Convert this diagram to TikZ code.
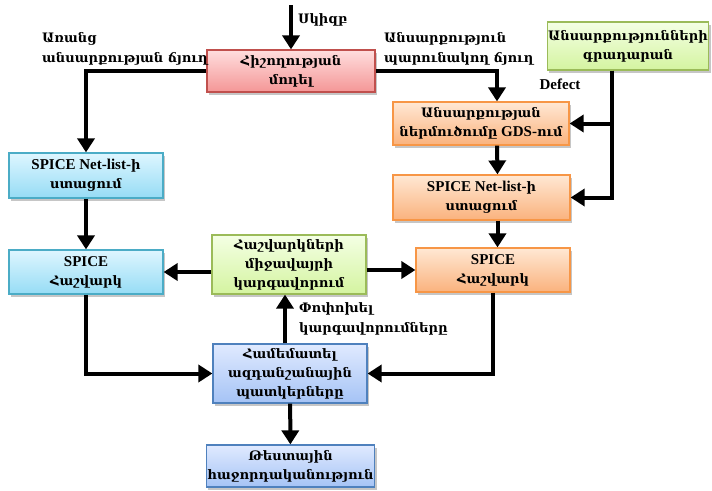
\documentclass[tikz,border=0pt]{standalone}
\usepackage{fontspec}
\setmainfont{Liberation Serif}
\newfontfamily\armfont[Scale=0.87]{DejaVu Serif}
\newcommand{\hy}[1]{{\armfont #1}}
\usetikzlibrary{arrows.meta,shadows}

\definecolor{redline}{RGB}{192,80,77}
\definecolor{redtop}{RGB}{255,222,222}
\definecolor{redbot}{RGB}{244,150,150}
\definecolor{greenline}{RGB}{155,187,89}
\definecolor{greentop}{RGB}{244,255,228}
\definecolor{greenbot}{RGB}{212,244,160}
\definecolor{orangeline}{RGB}{247,150,70}
\definecolor{orangetop}{RGB}{255,232,212}
\definecolor{orangebot}{RGB}{250,178,125}
\definecolor{cyanline}{RGB}{75,172,198}
\definecolor{cyantop}{RGB}{222,246,255}
\definecolor{cyanbot}{RGB}{150,220,245}
\definecolor{blueline}{RGB}{79,129,189}
\definecolor{bluetop}{RGB}{224,234,255}
\definecolor{bluebot}{RGB}{165,195,245}

\tikzset{
  box/.style={draw, line width=1.2pt, align=center, inner sep=1pt,
    font=\bfseries\fontsize{15}{19}\selectfont,
    drop shadow={opacity=0.45, shadow xshift=2pt, shadow yshift=-3pt}},
  redbox/.style={box, draw=redline, top color=redtop, bottom color=redbot},
  greenbox/.style={box, draw=greenline, top color=greentop, bottom color=greenbot},
  orangebox/.style={box, draw=orangeline, top color=orangetop, bottom color=orangebot},
  cyanbox/.style={box, draw=cyanline, top color=cyantop, bottom color=cyanbot},
  bluebox/.style={box, draw=blueline, top color=bluetop, bottom color=bluebot},
  conn/.style={line width=4pt, -{Triangle[width=17pt,length=14pt]}},
  lbl/.style={font=\bfseries\fontsize{15}{20}\selectfont, align=left, inner sep=0pt}
}

\begin{document}
\begin{tikzpicture}[x=1pt,y=-1pt]
\useasboundingbox (0,0) rectangle (712,490);

% Boxes
\node[redbox, minimum width=168pt, minimum height=42pt] (mem) at (291,71) {\hy{Հիշողության}\\\hy{մոդել}};
\node[greenbox, minimum width=154pt, minimum height=48pt] (lib) at (628,46) {\hy{Անսարքությունների}\\\hy{գրադարան}};
\node[orangebox, minimum width=176pt, minimum height=43pt] (gds) at (481,123.5) {\hy{Անսարքության}\\\hy{ներմուծումը} GDS-\hy{ում}};
\node[orangebox, minimum width=177pt, minimum height=45pt] (onet) at (481.5,197.5) {SPICE Net-list-\hy{ի}\\\hy{ստացում}};
\node[orangebox, minimum width=154pt, minimum height=44pt] (ospice) at (493,270) {SPICE\\\hy{Հաշվարկ}};
\node[cyanbox, minimum width=154pt, minimum height=45pt] (bnet) at (86,175.5) {SPICE Net-list-\hy{ի}\\\hy{ստացում}};
\node[cyanbox, minimum width=154pt, minimum height=44pt] (bspice) at (86,272) {SPICE\\\hy{Հաշվարկ}};
\node[greenbox, minimum width=154pt, minimum height=59pt] (env) at (289,264.5) {\hy{Հաշվարկների}\\\hy{միջավայրի}\\\hy{կարգավորում}};
\node[bluebox, minimum width=154pt, minimum height=59pt] (cmp) at (290,373.5) {\hy{Համեմատել}\\\hy{ազդանշանային}\\\hy{պատկերները}};
\node[bluebox, minimum width=165pt, minimum height=42pt] (test) at (290.5,466) {\hy{Թեստային}\\\hy{հաջորդականություն}};

% Labels
\node[lbl, anchor=south west] (startlbl) at (298,26) {\hy{Սկիզբ}};
\node[lbl, anchor=south west] (nofault) at (42,65) {\hy{Առանց}\\\hy{անսարքության ճյուղ}};
\node[lbl, anchor=south west] (fault) at (384,65) {\hy{Անսարքություն}\\\hy{պարունակող ճյուղ}};
\node[lbl, anchor=north west] (change) at (299,302) {\hy{Փոփոխել}\\\hy{կարգավորումները}};
\node[lbl] (defect) at (560,84) {Defect};

% Connectors
\coordinate (start) at (291,5);
\draw[conn] (start) -- (mem);
\draw[conn] (mem.west) -| (bnet.north);
\draw[conn] (mem.east) -| ([xshift=16pt]gds.north);
\draw[conn] ([xshift=-16pt]lib.south) |- (gds.east);
\draw[conn] ([xshift=-16pt]lib.south) |- (onet.east);
\draw[conn] ([xshift=16pt]gds.south) -- ([xshift=16pt]onet.north);
\draw[conn] ([xshift=16pt]onet.south) -- ([xshift=16pt]onet.south |- ospice.north);
\draw[conn] (bnet) -- (bspice);
\draw[conn] (env.west |- bspice) -- (bspice.east);
\draw[conn] (env.east |- ospice) -- (ospice.west);
\draw[conn] (bspice.south) |- (cmp.west);
\draw[conn] (ospice.south) |- (cmp.east);
\draw[conn] ([xshift=-5pt]cmp.north) -- ([xshift=-5pt]cmp.north |- env.south);
\draw[conn] (cmp) -- (test);

\end{tikzpicture}
\end{document}
